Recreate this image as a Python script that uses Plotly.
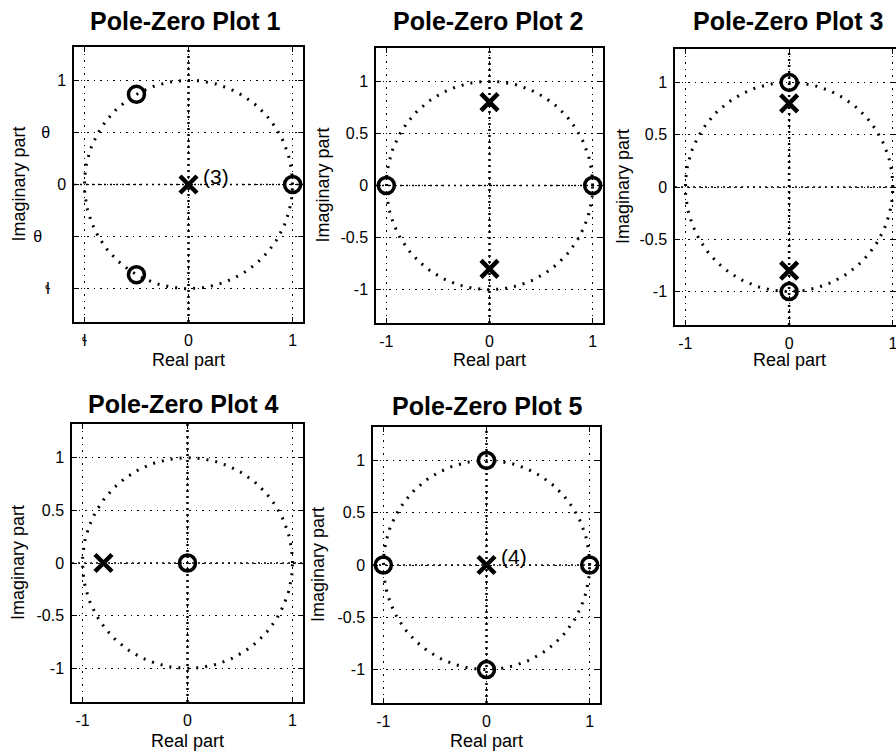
import numpy as np
import plotly.graph_objects as go

# pole / zero locations for each panel
titles = ["Pole-Zero Plot 1", "Pole-Zero Plot 2", "Pole-Zero Plot 3",
          "Pole-Zero Plot 4", "Pole-Zero Plot 5"]
zeros_re = [[1, -0.5, -0.5], [-1, 1], [0, 0], [0], [1, -1, 0, 0]]
zeros_im = [[0, 0.866, -0.866], [0, 0], [1, -1], [0], [0, 0, 1, -1]]
poles_re = [[0], [0, 0], [0, 0], [-0.8], [0]]
poles_im = [[0], [0.8, -0.8], [0.8, -0.8], [0], [0]]
multiplicity = ["(3)", "", "", "", "(4)"]

x_ticks = [-1, 0, 1]
y_ticks = [-1, -0.5, 0, 0.5, 1]
y_ticktext = ["-1", "-0.5", "0", "0.5", "1"]
# panel 1 labels came out smeared in the scan
y_ticktext_p1 = ["\u026c\u2003", "\u03b8\u2003\u2002", "0", "\u03b8\u2003", "1"]
x_ticktext_p1 = ["\u026c", "0", "1"]

W, H = 896, 755
# frame boxes in pixels: left, right, top, bottom
boxes = [(74, 303, 47, 322), (376, 603, 48, 323), (675, 896, 49, 325),
         (72, 303, 424, 702), (373, 600, 427, 703)]
title_pos = [(185, 21), (488, 21), (788, 21), (183, 404), (487, 406)]
ylab_x = [18, 323, 623, 18, 318]
xlab_y = [360, 360, 360, 741, 741]

fig = go.Figure()
theta = np.linspace(0, 2 * np.pi, 300)
font = "Liberation Sans, Arial, sans-serif"

for i in range(5):
    xa = "x" if i == 0 else f"x{i+1}"
    ya = "y" if i == 0 else f"y{i+1}"
    l, r, t, b = boxes[i]

    fig.add_trace(go.Scatter(x=np.cos(theta), y=np.sin(theta), mode="lines",
                             line=dict(color="black", width=3, dash="2px,7px"),
                             xaxis=xa, yaxis=ya, showlegend=False, hoverinfo="skip"))
    fig.add_trace(go.Scatter(x=zeros_re[i], y=zeros_im[i], mode="markers",
                             marker=dict(symbol="circle-open", size=16, color="black",
                                         line=dict(color="black", width=3.5)),
                             xaxis=xa, yaxis=ya, showlegend=False))
    fig.add_trace(go.Scatter(x=poles_re[i], y=poles_im[i], mode="markers",
                             marker=dict(symbol="x-thin", size=17, color="black",
                                         line=dict(color="black", width=4.5)),
                             xaxis=xa, yaxis=ya, showlegend=False))
    if multiplicity[i]:
        fig.add_annotation(x=0.12, y=0.08, xref=xa, yref=ya, text=multiplicity[i],
                           showarrow=False, xanchor="left", yanchor="middle",
                           font=dict(size=21, color="black", family=font))

    # dotted axes through the origin
    fig.add_shape(type="line", xref=xa, yref=f"{ya} domain", x0=0, x1=0, y0=0, y1=1,
                  line=dict(color="black", width=2.5, dash="2px,4px"))
    fig.add_shape(type="line", xref=f"{xa} domain", yref=ya, x0=0, x1=1, y0=0, y1=0,
                  line=dict(color="black", width=1.5, dash="2px,4px"))

    xr = [-1.1, 1.03] if i == 2 else [-1.1, 1.1]
    axis_common = dict(showline=True, linecolor="black", linewidth=1.5, mirror="ticks",
                       ticks="inside", ticklen=5, tickcolor="black", automargin=False,
                       showgrid=True, gridcolor="black", gridwidth=1, griddash="1.5px,5px",
                       zeroline=False, ticklabeloverflow="allow",
                       tickfont=dict(size=16, color="black", family=font))
    fig.update_layout({
        ("xaxis" if i == 0 else f"xaxis{i+1}"): dict(
            domain=[l / W, r / W], range=xr, anchor=ya, tickmode="array",
            tickvals=x_ticks, ticktext=x_ticktext_p1 if i == 0 else ["-1", "0", "1"],
            ticklabelstandoff=3, **axis_common),
        ("yaxis" if i == 0 else f"yaxis{i+1}"): dict(
            domain=[1 - b / H, 1 - t / H], range=[-1.32, 1.32], anchor=xa, tickmode="array",
            tickvals=y_ticks, ticktext=y_ticktext_p1 if i == 0 else y_ticktext,
            ticklabelstandoff=3, **axis_common),
    })

    fig.add_annotation(x=title_pos[i][0] / W, y=1 - title_pos[i][1] / H, xref="paper", yref="paper",
                       text=f"<b>{titles[i]}</b>", showarrow=False,
                       xanchor="center", yanchor="middle",
                       font=dict(size=25, color="black", family=font))
    fig.add_annotation(x=ylab_x[i] / W, y=1 - ((t + b) / 2) / H, xref="paper", yref="paper",
                       text="Imaginary part", textangle=-90, showarrow=False,
                       xanchor="center", yanchor="middle",
                       font=dict(size=18, color="black", family=font))
    fig.add_annotation(x=((l + r) / 2 if i != 2 else 789) / W, y=1 - xlab_y[i] / H,
                       xref="paper", yref="paper", text="Real part", showarrow=False,
                       xanchor="center", yanchor="middle",
                       font=dict(size=18, color="black", family=font))

fig.update_layout(width=W, height=H, margin=dict(l=0, r=0, t=0, b=0),
                  paper_bgcolor="white", plot_bgcolor="white",
                  font=dict(family=font, color="black"))

# page margin off so the figure sits at the window's corner
fig.write_html("out.html", config={"displayModeBar": False},
               post_script="document.body.style.margin='0px';")
